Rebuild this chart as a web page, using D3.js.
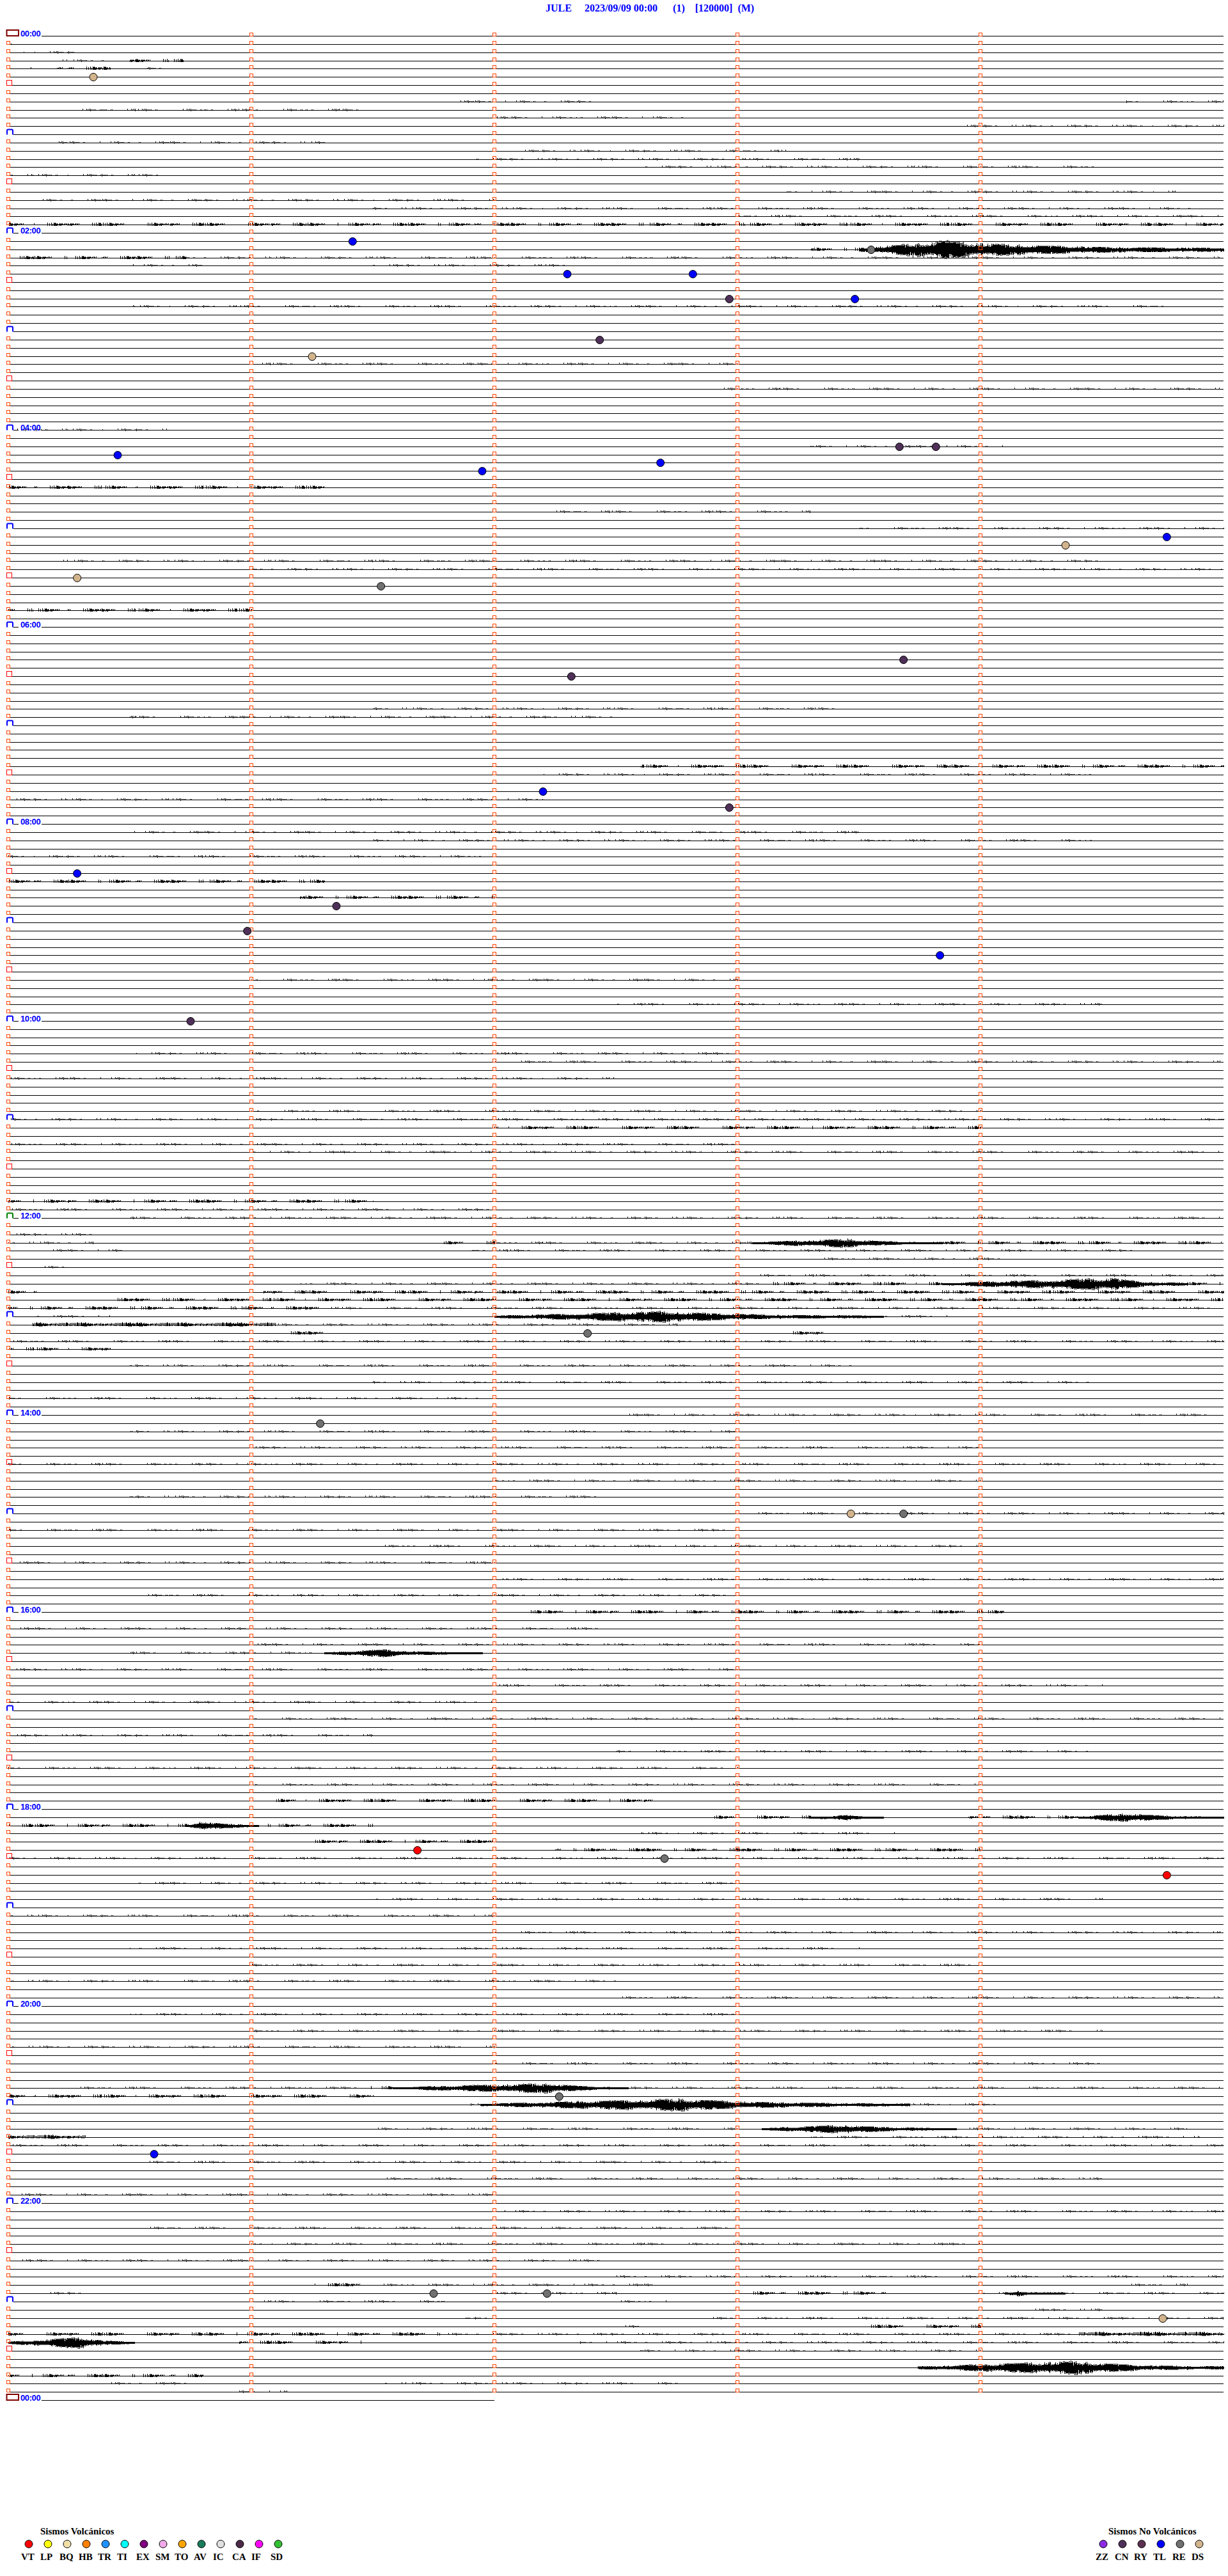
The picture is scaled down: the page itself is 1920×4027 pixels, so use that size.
<!DOCTYPE html>
<html>
<head>
<meta charset="utf-8">
<script src="https://cdn.jsdelivr.net/npm/d3@7"></script>
<style>
  body { margin: 0; background: #fff; }
  svg { display: block; }
</style>
</head>
<body>
<svg width="1920" height="4027"></svg>
<script>
const svg = d3.select("svg");
const width = 1920, height = 4027;

// Header
const title = "JULE     2023/09/09 00:00      (1)    [120000]  (M)";

// Hour labels (every two hours, plus the closing midnight)
const hourLabels = ["00:00", "02:00", "04:00", "06:00", "08:00", "10:00", "12:00",
  "14:00", "16:00", "18:00", "20:00", "22:00", "00:00"];

// Classified events: time, type
const events = [
  ["00:25:21", "DS"], ["02:06:25", "TL"], ["02:13:33", "RE"], ["02:27:18", "TL"],
  ["02:27:49", "TL"], ["02:42:58", "CN"], ["02:43:29", "TL"], ["03:07:26", "CN"],
  ["03:16:15", "DS"], ["04:13:40", "CN"], ["04:13:49", "CN"], ["04:15:27", "TL"],
  ["04:22:41", "TL"], ["04:26:57", "TL"], ["05:09:46", "TL"], ["05:14:21", "DS"],
  ["05:30:17", "DS"], ["05:36:32", "RE"], ["06:23:41", "CN"], ["06:32:19", "CN"],
  ["07:42:12", "TL"], ["07:52:58", "CN"], ["08:30:17", "TL"], ["08:51:21", "CN"],
  ["09:05:59", "CN"], ["09:23:50", "TL"], ["10:00:45", "CN"], ["13:12:23", "RE"],
  ["14:06:17", "RE"], ["15:03:28", "DS"], ["15:03:41", "RE"], ["18:26:41", "VT"],
  ["18:32:42", "RE"], ["18:44:46", "VT"], ["20:57:16", "RE"], ["21:30:36", "TL"],
  ["22:56:45", "RE"], ["22:57:13", "RE"], ["23:14:45", "DS"]
];

// Legend
const volcTypes = ["VT", "LP", "BQ", "HB", "TR", "TI", "EX", "SM", "TO", "AV", "IC", "CA", "IF", "SD"];
const volcColors = ["#ff0000", "#ffff00", "#f0e0a8", "#ff8000", "#1e90ff", "#00ffff", "#800080",
  "#f0a8e8", "#ffa500", "#1a7a5a", "#e0e0e0", "#4a2a45", "#ff00ff", "#33c033"];
const nonVolcTypes = ["ZZ", "CN", "RY", "TL", "RE", "DS"];
const nonVolcColors = ["#8a2be2", "#4e3058", "#5a3050", "#0000ff", "#707070", "#d2b48c"];

// Large signals: row (5 min), start min, peak min, end min, peak amplitude (px)
const bursts = [
  [26, 3.5, 3.85, 5.0, 15], [147, 3.06, 3.45, 3.84, 7], [152, 3.84, 4.55, 4.85, 10],
  [156, 2.0, 2.71, 3.6, 9], [197, 1.3, 1.55, 1.95, 6], [217, 3.3, 3.45, 3.6, 4],
  [217, 4.4, 4.6, 5.0, 7], [218, 0.74, 0.8, 1.03, 8], [250, 1.58, 2.23, 2.55, 8],
  [252, 1.94, 2.77, 3.71, 10], [255, 3.1, 3.44, 3.9, 7], [275, 4.1, 4.15, 4.35, 4],
  [281, 0.0, 0.3, 0.52, 9], [284, 3.74, 4.4, 5.0, 11]
];

// Background noise: row, start min, end min, level (1 light .. 3 strong)
const noise = [
  [1, 0, 0.06, 1], [1, 0.23, 0.28, 1], [2, 0.06, 0.27, 1], [3, 0.17, 0.4, 1], [3, 0.5, 0.72, 2],
  [4, 0.05, 0.1, 1], [4, 0.2, 0.42, 2], [4, 0.57, 0.66, 1], [8, 1.83, 2.4, 1], [8, 4.6, 5, 1],
  [9, 0.3, 1.5, 1], [10, 2.0, 2.8, 1], [11, 3.9, 5, 1], [13, 0.2, 1.3, 1], [14, 2.1, 3.2, 1],
  [15, 1.9, 3.5, 1], [16, 2.6, 4.5, 1], [17, 0, 0.7, 1], [19, 3.2, 4.8, 1], [20, 0.1, 2.0, 1],
  [21, 1.5, 4.9, 1], [22, 3.0, 5, 1], [23, 0, 5, 2], [26, 3.3, 5, 2], [27, 0, 0.73, 2],
  [27, 0.73, 5, 1], [28, 0.5, 0.8, 1], [28, 1.5, 2.3, 1], [33, 0.5, 4.8, 1], [40, 1.0, 3.0, 1],
  [43, 2.9, 5, 1], [48, 0, 0.65, 1], [50, 3.3, 4.1, 1], [55, 0, 1.3, 2], [58, 2.2, 3.3, 1],
  [60, 3.5, 5, 1], [64, 0.2, 4.5, 1], [65, 1.0, 5, 1], [70, 0, 1.0, 2], [82, 1.5, 3.5, 1],
  [83, 0.5, 2.5, 1], [89, 2.6, 5, 2], [90, 2.2, 4.5, 1], [93, 0, 2.2, 1], [97, 0.5, 3.5, 1],
  [98, 1.5, 4.5, 1], [100, 0, 2.0, 1], [103, 0, 1.3, 2], [105, 1.2, 2.0, 2], [115, 1.0, 3.0, 1],
  [118, 2.5, 4.5, 1], [124, 0.5, 3.0, 1], [125, 2.0, 5, 1], [127, 0, 2.5, 1], [131, 1.0, 4.0, 1],
  [132, 0, 5, 1], [133, 2.0, 4.0, 2], [135, 0, 3.0, 1], [136, 1.0, 5, 1], [142, 0, 1.5, 2],
  [143, 0, 2.0, 1], [144, 0.5, 5, 1], [146, 0, 0.37, 1], [147, 0, 0.35, 1], [147, 1.79, 2.0, 2],
  [147, 2.0, 5, 1], [147, 3.84, 5, 2], [148, 0.16, 0.48, 1], [148, 1.9, 4.65, 1], [149, 3.35, 4.1, 1],
  [150, 0.1, 0.23, 1], [151, 3.05, 5, 1], [152, 1.2, 3.1, 1], [152, 3.1, 3.84, 2], [152, 4.85, 5, 2],
  [153, 0, 0.15, 2], [153, 1.05, 5, 2], [154, 0.4, 5, 2], [155, 0, 1.3, 2], [155, 1.3, 5, 1],
  [156, 0.1, 0.42, 1], [156, 3.6, 3.9, 1], [157, 0.1, 1.1, 3], [157, 1.1, 2.75, 1], [158, 1.15, 1.3, 2],
  [158, 3.2, 3.35, 2], [159, 0, 5, 1], [160, 0, 0.42, 2], [162, 0.5, 3.5, 1], [164, 1.5, 4.5, 1],
  [166, 0, 2.0, 1], [168, 2.5, 5, 1], [170, 0.5, 3.0, 1], [172, 1.0, 4.0, 1], [174, 0, 5, 1],
  [176, 2.0, 4.0, 1], [178, 0.5, 2.5, 1], [180, 3.0, 5, 1], [182, 0, 3.0, 1], [184, 1.5, 4.0, 1],
  [186, 0, 2.0, 1], [188, 2.0, 5, 1], [190, 0.5, 3.0, 1], [192, 2.1, 4.1, 2], [194, 0, 2.5, 1],
  [196, 1.0, 4.0, 1], [197, 0.5, 1.3, 1], [199, 0, 3.0, 1], [201, 2.0, 4.5, 1], [203, 0, 2.0, 1],
  [205, 1.0, 5, 1], [207, 0, 1.5, 1], [209, 2.5, 4.5, 1], [211, 0, 3.0, 1], [213, 1.0, 4.0, 1],
  [215, 1.1, 2.65, 2], [217, 2.9, 3.3, 2], [217, 3.95, 4.4, 2], [218, 0, 0.74, 2], [218, 1.03, 1.52, 2],
  [219, 2.6, 3.65, 1], [220, 1.25, 2.0, 2], [221, 2.25, 4.0, 2], [222, 0, 5, 1], [225, 0.5, 3.0, 1],
  [227, 1.5, 4.5, 1], [229, 0, 2.0, 1], [231, 2.0, 5, 1], [233, 0.5, 3.5, 1], [235, 1.0, 4.0, 1],
  [237, 0, 2.5, 1], [239, 2.5, 5, 1], [241, 0.5, 3.0, 1], [243, 1.0, 4.5, 1], [245, 0, 2.0, 1],
  [247, 2.0, 4.5, 1], [250, 0.2, 1.45, 1], [250, 1.45, 1.58, 2], [250, 2.55, 5, 1], [251, 0, 1.5, 2],
  [252, 1.9, 1.94, 1], [252, 3.71, 4.1, 1], [255, 1.5, 3.0, 1], [255, 3.9, 4.85, 1], [256, 0, 0.32, 3],
  [256, 3.3, 4.9, 1], [257, 0, 5, 1], [259, 0.5, 3.0, 1], [261, 1.5, 4.5, 1], [263, 0, 2.0, 1],
  [265, 2.0, 5, 1], [267, 0.5, 3.0, 1], [269, 1.0, 4.0, 1], [271, 0, 2.5, 1], [273, 2.5, 5, 1],
  [274, 1.26, 1.45, 2], [274, 1.45, 2.65, 1], [274, 4.55, 4.85, 1], [275, 0.16, 0.35, 1], [275, 2.0, 2.5, 1],
  [275, 3.05, 3.65, 2], [275, 4.0, 5, 1], [276, 1.05, 1.8, 1], [276, 2.45, 2.72, 1], [277, 4.2, 4.5, 1],
  [278, 1.88, 2.0, 1], [278, 2.9, 5, 1], [279, 2.5, 2.6, 1], [279, 3.55, 4.0, 2], [280, 0, 1.8, 2],
  [280, 1.8, 4.4, 1], [280, 4.4, 5, 3], [281, 0.95, 1.45, 2], [281, 2.35, 5, 1], [282, 2.6, 4.0, 1],
  [285, 0, 0.8, 2], [286, 0.4, 0.75, 1], [286, 1.55, 2.75, 1], [287, 0.95, 1.15, 1]
];

// Fixed texture used to draw the wiggles inside a band
const texture = [0.42, 0.91, 0.18, 0.66, 0.35, 0.97, 0.27, 0.58, 0.12, 0.83, 0.49, 0.71, 0.06,
  0.94, 0.38, 0.62, 0.21, 0.88, 0.53, 0.3, 0.77, 0.15, 0.69, 0.44, 1, 0.25, 0.57, 0.09, 0.81,
  0.36, 0.64, 0.2, 0.92, 0.47, 0.74, 0.11, 0.86, 0.33, 0.59, 0.03, 0.79, 0.51, 0.24, 0.96,
  0.4, 0.68, 0.14, 0.85, 0.31, 0.55, 0.07, 0.73, 0.45];
const tex = (x, r, k) =>
  texture[(x * 17 + Math.floor(x / 53) * 29 + r * 31 + k * 23) % texture.length];

// Scales: minutes within a row, row index (5-minute rows)
const nRows = 288;
const x = d3.scaleLinear().domain([0, 5]).range([13, 1913]);
const y = d3.scaleLinear().domain([0, nRows]).range([56, 3752]);
const rowY = r => Math.round(y(r)) + 0.5;

svg.append("rect").attr("width", width).attr("height", height).attr("fill", "#fff");

// Header
svg.append("text")
  .attr("x", 853).attr("y", 18)
  .attr("fill", "#0000ff")
  .style("font", "bold 16px 'Liberation Serif', 'Times New Roman', serif")
  .style("white-space", "pre")
  .text(title);

const rows = d3.range(nRows + 1);
const g = svg.append("g");

// Baselines
function lineStart(r) {
  if (r % 24 === 0) return 65;
  if (r % 12 === 0) return 21;
  if (r % 6 === 0) return 18;
  return 15;
}
g.append("g").selectAll("line")
  .data(rows)
  .join("line")
  .attr("x1", r => lineStart(r))
  .attr("x2", r => r === nRows ? x(2) : x(5))
  .attr("y1", rowY).attr("y2", rowY)
  .attr("stroke", "#000").attr("stroke-width", 1)
  .attr("shape-rendering", "crispEdges");

// Short connector after the blue box on labelled hours
g.append("g").selectAll("line")
  .data(rows.filter(r => r % 24 === 0 && r % 288 !== 0))
  .join("line")
  .attr("x1", 21).attr("x2", 29)
  .attr("y1", rowY).attr("y2", rowY)
  .attr("stroke", "#000").attr("shape-rendering", "crispEdges");

// Traces: noise bands and bursts drawn as vertical ticks
function ticksPath() {
  let d = "";
  const dens = [0, 0.22, 0.45, 0.75], amps = [0, 1, 2, 3.2];
  noise.forEach(([r, m0, m1, lv]) => {
    const yy = rowY(r);
    for (let px = Math.ceil(x(m0)); px <= Math.floor(x(m1)); px++) {
      if (tex(px, r, 0) < dens[lv]) {
        const up = 1 + Math.round(amps[lv] * tex(px, r, 1));
        const dn = Math.round(amps[lv] * 0.5 * tex(px, r, 2));
        d += `M${px + 0.5},${yy - 0.5 - up}V${yy + 0.5 + dn}`;
      }
    }
  });
  bursts.forEach(([r, m0, mp, m1, a]) => {
    const yy = rowY(r);
    const x0 = x(m0), xp = x(mp), x1 = x(m1);
    for (let px = Math.ceil(x0); px <= Math.floor(x1); px++) {
      const env = px < xp
        ? 0.15 + 0.85 * (px - x0) / Math.max(1, xp - x0)
        : 0.12 + 0.88 * Math.exp(-2.8 * (px - xp) / Math.max(1, x1 - xp));
      const h = a * env;
      const up = Math.max(1, Math.round(h * (0.3 + 0.7 * tex(px, r, 1))));
      const dn = Math.max(1, Math.round(h * (0.3 + 0.7 * tex(px, r, 2))));
      d += `M${px + 0.5},${yy - 0.5 - up}V${yy + 0.5 + dn}`;
    }
  });
  return d;
}
g.append("path")
  .attr("d", ticksPath())
  .attr("stroke", "#000").attr("stroke-width", 1).attr("fill", "none")
  .attr("shape-rendering", "crispEdges");

// Minute marks
const minuteMarks = [];
rows.filter(r => r < nRows).forEach(r => [1, 2, 3, 4].forEach(m => minuteMarks.push([r, m])));
g.append("g").selectAll("rect")
  .data(minuteMarks)
  .join("rect")
  .attr("x", d => Math.round(x(d[1])) - 2.5)
  .attr("y", d => rowY(d[0]) - 5)
  .attr("width", 5).attr("height", 5)
  .attr("fill", "none").attr("stroke", "#ff4400")
  .attr("shape-rendering", "crispEdges");

// Left markers: plain rows
g.append("g").selectAll("rect")
  .data(rows.filter(r => r < nRows && r % 6 !== 0))
  .join("rect")
  .attr("x", 10.5).attr("y", r => rowY(r) - 5)
  .attr("width", 5).attr("height", 5)
  .attr("fill", "none").attr("stroke", "#ff4400")
  .attr("shape-rendering", "crispEdges");

// Half hours
g.append("g").selectAll("rect")
  .data(rows.filter(r => r % 12 === 6))
  .join("rect")
  .attr("x", 10.5).attr("y", r => rowY(r) - 8)
  .attr("width", 8).attr("height", 8)
  .attr("fill", "none").attr("stroke", "#ff0000")
  .attr("shape-rendering", "crispEdges");

// Hours (blue tabs)
g.append("g").selectAll("path")
  .data(rows.filter(r => r % 12 === 0 && r % 288 !== 0))
  .join("path")
  .attr("d", r => {
    const yy = rowY(r);
    return `M11,${yy}V${yy - 6.5}Q11,${yy - 8} 12.5,${yy - 8}H18.5Q20,${yy - 8} 20,${yy - 6.5}V${yy}`;
  })
  .attr("fill", "none")
  .attr("stroke", r => r === 144 ? "#008000" : "#0000ff")
  .attr("stroke-width", 2);

// Midnight boxes
g.append("g").selectAll("rect")
  .data([0, nRows])
  .join("rect")
  .attr("x", 10.5).attr("y", r => rowY(r) - 9.5)
  .attr("width", 18.5).attr("height", 9)
  .attr("fill", "none").attr("stroke", "#800000").attr("stroke-width", 2);

// Hour labels
g.append("g").selectAll("text")
  .data(hourLabels)
  .join("text")
  .attr("x", 32)
  .attr("y", (d, i) => rowY(i * 24) + 0.5)
  .attr("fill", "#0000ff")
  .style("font", "bold 13px 'Liberation Sans', Arial, sans-serif")
  .style("letter-spacing", "-0.4px")
  .text(d => d);

// Event circles
const allTypes = volcTypes.concat(nonVolcTypes);
const allColors = volcColors.concat(nonVolcColors);
const color = d3.scaleOrdinal().domain(allTypes).range(allColors);
function place(t) {
  const [h, m, s] = t.split(":").map(Number);
  const sec = h * 3600 + m * 60 + s;
  const r = Math.floor(sec / 300);
  return [x((sec - r * 300) / 60), rowY(r)];
}
g.append("g").selectAll("circle")
  .data(events)
  .join("circle")
  .attr("cx", d => place(d[0])[0])
  .attr("cy", d => place(d[0])[1])
  .attr("r", 6)
  .attr("fill", d => color(d[1]))
  .attr("stroke", "#000").attr("stroke-width", 1);

// Legends
function legend(types, x0, titleText, titleX) {
  const lg = svg.append("g");
  lg.append("text")
    .attr("x", titleX).attr("y", 3962)
    .style("font", "bold 15px 'Liberation Serif', 'Times New Roman', serif")
    .text(titleText);
  const items = lg.selectAll("g").data(types).join("g")
    .attr("transform", (d, i) => `translate(${x0 + i * 30},3977)`);
  items.append("circle").attr("r", 6)
    .attr("fill", d => color(d)).attr("stroke", "#000");
  items.append("text")
    .attr("x", -12).attr("y", 25)
    .style("font", "bold 15px 'Liberation Serif', 'Times New Roman', serif")
    .text(d => d);
}
legend(volcTypes, 45, "Sismos Volcánicos", 63);
legend(nonVolcTypes, 1725, "Sismos No Volcánicos", 1733);
</script>
</body>
</html>
